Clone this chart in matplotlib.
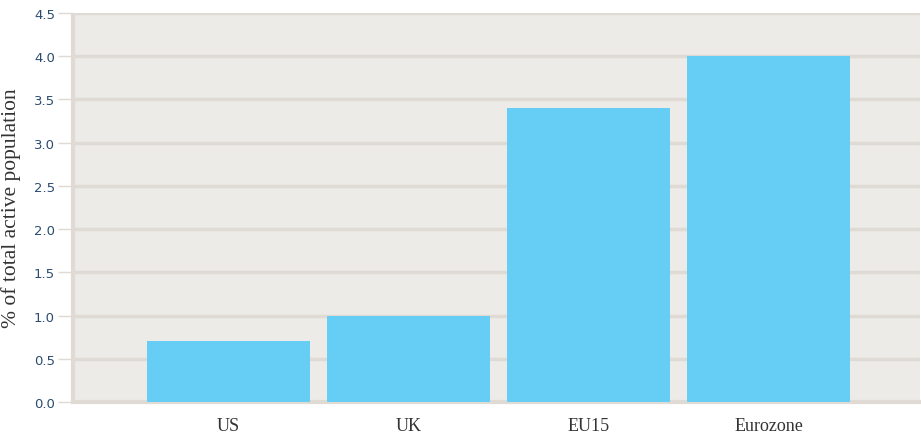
import matplotlib
matplotlib.use("Agg")
import matplotlib.pyplot as plt

# share of total active population by region
regions = ["US", "UK", "EU15", "Eurozone"]
share = [0.7, 1.0, 3.4, 4.0]
y_ticks = [0.0, 0.5, 1.0, 1.5, 2.0, 2.5, 3.0, 3.5, 4.0, 4.5]

fig = plt.figure(figsize=(9.21, 4.35), dpi=100)
ax = fig.add_axes([73 / 921, 32 / 435, 847 / 921, 389 / 435])
ax.set_facecolor("#edebe8")

x = list(range(len(regions)))
ax.bar(x, share, width=0.906, color="#66cef5", zorder=3)

ax.set_xlim(-0.864, 3.842)
ax.set_ylim(0, 4.5)
ax.set_yticks(y_ticks)
ax.set_yticklabels([f"{v:.1f}" for v in y_ticks], color="#2b4c6f", fontsize=9.5,
                   family="DejaVu Sans")
ax.set_xticks(x)
ax.set_xticklabels(regions, family="Liberation Serif", fontsize=13, color="#333333")

ax.grid(axis="y", color="#e0dad4", linewidth=2.5, zorder=1)
ax.tick_params(axis="y", length=11, width=1, color="#e0dad4", pad=2)
ax.tick_params(axis="x", length=0, pad=11)

for side in ["top", "right"]:
    ax.spines[side].set_visible(False)
for side in ["left", "bottom"]:
    ax.spines[side].set_color("#e0dad4")
    ax.spines[side].set_linewidth(3)
ax.spines["left"].set_capstyle("butt")

ax.set_ylabel("% of total active population", family="Liberation Serif", fontsize=15.5,
              color="#333333", labelpad=9)

fig.savefig("out.png", dpi=100)
